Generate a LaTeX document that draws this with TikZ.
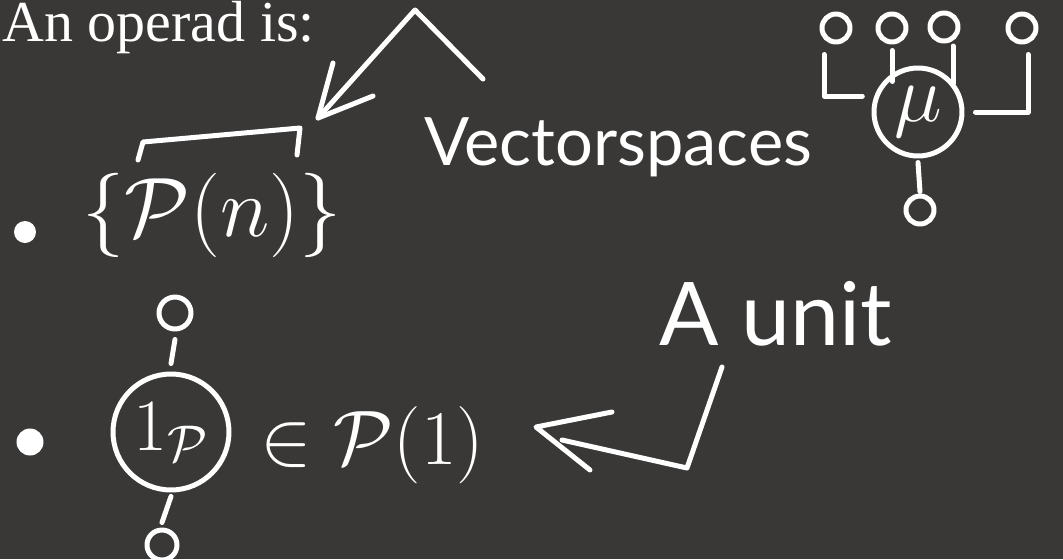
\RequirePackage{fix-cm}
\documentclass[tikz,border=0pt]{standalone}
\usepackage{amsmath}
\usepackage{amssymb}
\usepackage{fontspec}
\setmainfont{Liberation Serif}
\newfontfamily\handfont{Lato}
\usetikzlibrary{positioning}
\definecolor{board}{HTML}{393837}

\begin{document}
\begin{tikzpicture}[x=0.02cm, y=-0.02cm, line width=0.1cm, line cap=round, line join=round, white]
  \fill[board] (0,0) rectangle (1063,559);
  \useasboundingbox (0,0) rectangle (1063,559);

  \tikzset{itemdot/.style={circle,fill=white,inner sep=0pt},
           opnode/.style={circle,draw,inner sep=0pt},
           leaf/.style={circle,draw,inner sep=0pt,minimum size=0.56cm}}

 % heading
  \node[anchor=base west, inner sep=0pt, text height=0.68em, font=\fontsize{33}{38}\selectfont] (title) at (0,41) {An operad is:};

 % first item
  \node[itemdot, minimum size=0.44cm] (dotA) at (25,232) {};
  \node[anchor=base, inner sep=0pt, font=\fontsize{48}{52}\selectfont] (famP) at (212,236) {$\{\mathcal{P}(n)\}$};
  \draw (138,160) -- (143,142) -- (300,128) -- (297,155);

 % vector spaces
  \node[anchor=base, font=\handfont\fontsize{38}{44}\selectfont] (vspaces) at (618,165) {Vectorspaces};
  \coordinate (vtail) at (483,79);
  \coordinate (vpeak) at (415,10);
  \coordinate (vtip) at (318,118);
  \draw (vtail) -- (vpeak) -- (vtip);
  \draw (333,63) -- (vtip) -- (373,96);

 % operation mu
  \node[opnode, minimum size=1.76cm, font=\fontsize{46}{50}\selectfont] (mu) at (918,112) {$\mu$};
  \node[leaf] (in1) at (836,28) {};
  \node[leaf] (in2) at (892,28) {};
  \node[leaf] (in3) at (944,27) {};
  \node[leaf] (in4) at (1022,28) {};
  \node[leaf] (out) at (920,210) {};
  \draw ([shift={(-0.24cm,-0.2cm)}]in1.south) |- ([xshift=-0.24cm]mu.160);
  \draw ([yshift=-0.12cm]in2.south) -- ++(0,-0.62cm);
  \draw ([shift={(0.18cm,-0.05cm)}]in3.south) -- ++(0,-0.75cm);
  \draw ([shift={(0.12cm,-0.2cm)}]in4.south) |- ([xshift=0.22cm]mu.east);
  \draw ([yshift=-0.08cm]mu.south) -- ([yshift=0.04cm]out.north);

 % second item
  \node[itemdot, minimum size=0.54cm] (dotB) at (30,442) {};
  \node[opnode, minimum size=2.32cm, font=\fontsize{42}{46}\selectfont] (unit) at (171,432) {$1_{\mathcal{P}}$};
  \node[leaf, minimum size=0.64cm] (uin) at (175,313) {};
  \node[leaf, minimum size=0.6cm] (uout) at (162,545) {};
  \draw ([yshift=-0.16cm]uin.south) -- ([yshift=0.16cm]unit.north);
  \draw ([yshift=-0.08cm]unit.south) -- ([yshift=0.1cm]uout.north);
  \node[anchor=base west, inner sep=0pt, font=\fontsize{44}{50}\selectfont] (inP) at (258,464) {$\in\mathcal{P}(1)$};

 % a unit
  \node[anchor=base, font=\handfont\fontsize{50}{56}\selectfont] (unitlbl) at (776,345) {A unit};
  \coordinate (utail) at (722,367);
  \coordinate (ucorner) at (687,468);
  \coordinate (ushaft) at (562,440);
  \coordinate (utip) at (536,427);
  \draw (utail) -- (ucorner) -- (ushaft);
  \draw (612,412) -- (utip) -- (590,470);

\end{tikzpicture}
\end{document}
